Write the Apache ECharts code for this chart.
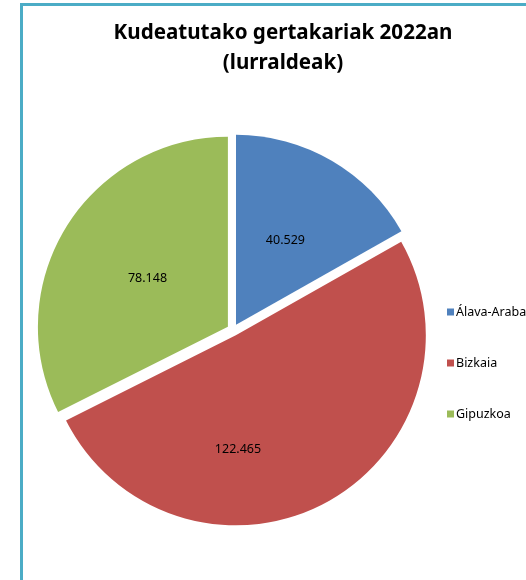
<!DOCTYPE html>
<html lang="eu">
<head>
    <meta charset="UTF-8">
    <title>Kudeatutako gertakariak 2022an</title>
    <script src="https://cdn.jsdelivr.net/npm/echarts@6/dist/echarts.min.js"></script>
    <style>
        html,body{
            margin: 0;
            height: 100%;
            background: #fff;
        }
    </style>
</head>
<body>
<!--grafikoaren edukiontzia-->
<div id="main" style="width: 526px;height: 580px"></div>
<script>
    // datuak
    var lurraldeak = ['Álava-Araba', 'Bizkaia', 'Gipuzkoa'];
    var gertakariak = [40529, 122465, 78148];
    var koloreak = ['#4F81BD', '#C0504D', '#9BBB59'];

    // zenbakiak puntuarekin (40.529)
    function formatua(v) {
        return String(v).replace(/\B(?=(\d{3})+(?!\d))/g, '.');
    }

    var datuak = lurraldeak.map(function (izena, i) {
        return {
            name: izena,
            value: gertakariak[i],
            selected: true,
            itemStyle: { color: koloreak[i] }
        };
    });

    var myChart = echarts.init(document.getElementById('main'));

    var option = {
        animation: false,
        title: {
            text: 'Kudeatutako gertakariak 2022an\n(lurraldeak)',
            left: 278,
            top: 13,
            textAlign: 'center',
            textStyle: {
                fontFamily: 'Noto Sans',
                fontSize: 20.6,
                fontWeight: 'bold',
                lineHeight: 30,
                color: '#000'
            }
        },
        legend: {
            orient: 'vertical',
            left: 442,
            top: 300,
            icon: 'rect',
            itemWidth: 7,
            itemHeight: 7,
            itemGap: 37,
            selectedMode: false,
            textStyle: {
                fontFamily: 'Noto Sans',
                fontSize: 12.5,
                lineHeight: 14,
                color: '#000',
                padding: [0, 0, 0, -3]
            },
            data: lurraldeak
        },
        graphic: [
            {
                type: 'rect',
                silent: true,
                shape: { x: 21.5, y: 4.5, width: 700, height: 700 },
                style: { fill: 'none', stroke: '#4BACC6', lineWidth: 3 }
            }
        ],
        series: [
            {
                name: 'Gertakariak',
                type: 'pie',
                center: [233, 330],
                radius: 190,
                startAngle: 90,
                selectedMode: 'multiple',
                selectedOffset: 6,
                label: {
                    show: true,
                    position: 'inside',
                    fontFamily: 'Noto Sans',
                    fontSize: 12.5,
                    color: '#000',
                    formatter: function (p) { return formatua(p.value); }
                },
                // Bizkaiako etiketa beherago eta ezkerrerago dago jatorrizkoan
                labelLayout: function (p) {
                    if (p.dataIndex === 1) {
                        return { dx: -44, dy: 28 };
                    }
                    if (p.dataIndex === 2) {
                        return { dx: 3, dy: 3 };
                    }
                    return {};
                },
                labelLine: { show: false },
                emphasis: { scale: false },
                data: datuak
            }
        ]
    };
    myChart.setOption(option);
</script>
</body>
</html>
